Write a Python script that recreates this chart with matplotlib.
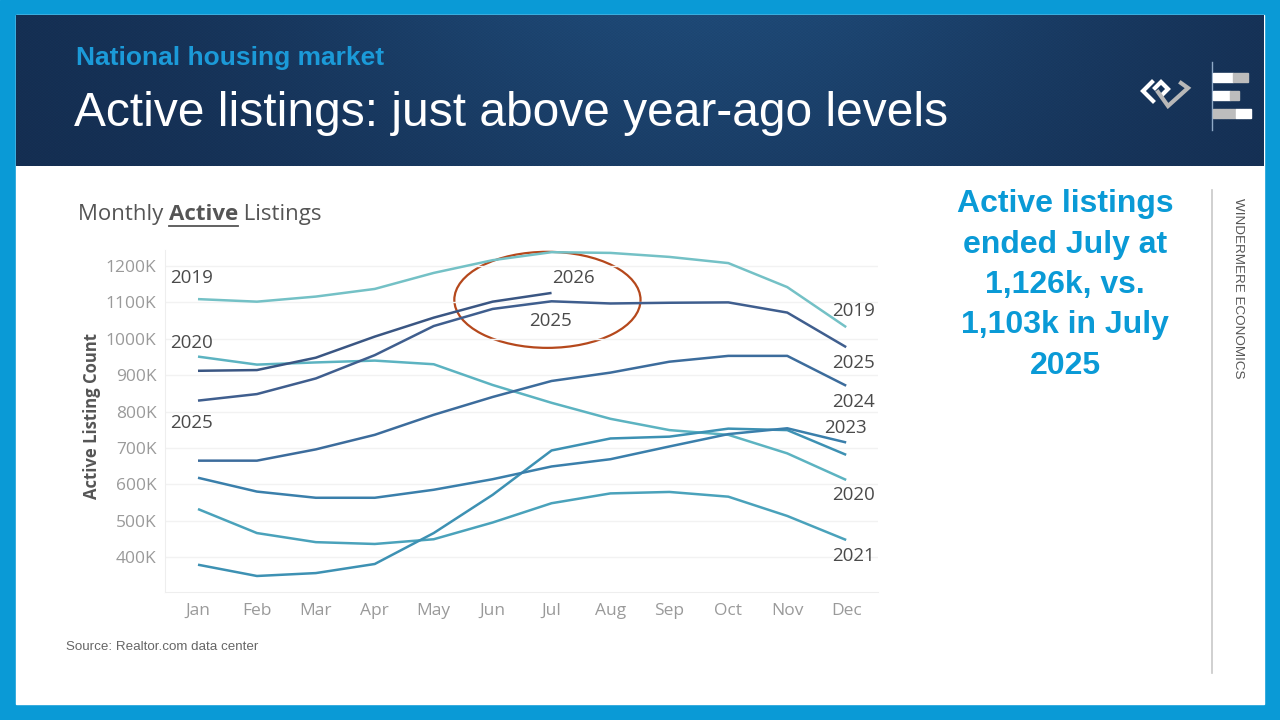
import numpy as np
import matplotlib.pyplot as plt
from matplotlib.patches import Rectangle, Ellipse
from matplotlib.lines import Line2D

# ---------------------------------------------------------------
# DATA (thousands of active listings)
# ---------------------------------------------------------------
months = ['Jan', 'Feb', 'Mar', 'Apr', 'May', 'Jun',
          'Jul', 'Aug', 'Sep', 'Oct', 'Nov', 'Dec']

y2019 = [1109, 1102, 1116, 1137, 1181, 1216, 1238, 1236, 1225, 1208, 1142, 1032]
y2020 = [951, 929, 935, 940, 930, 873, 824, 780, 749, 736, 685, 612]
y2021 = [532, 466, 441, 436, 449, 495, 548, 575, 579, 566, 513, 447]
y2022 = [379, 348, 356, 381, 466, 571, 693, 726, 731, 753, 749, 681]
y2023 = [618, 580, 563, 563, 585, 614, 649, 669, 704, 738, 754, 715]
y2024 = [665, 665, 696, 736, 791, 840, 884, 907, 937, 953, 953, 871]
y2025 = [830, 848, 891, 955, 1035, 1082, 1103, 1097, 1099, 1100, 1072, 977]
y2026 = [912, 914, 948, 1006, 1058, 1102, 1126]

series = {
    '2019': (y2019, '#74c1c6'),
    '2020': (y2020, '#5cb3c1'),
    '2021': (y2021, '#4aa2bb'),
    '2022': (y2022, '#3d91b3'),
    '2023': (y2023, '#3a7fab'),
    '2024': (y2024, '#3c6c9c'),
    '2025': (y2025, '#3f5e8e'),
    '2026': (y2026, '#3a5683'),
}

yticks = [400, 500, 600, 700, 800, 900, 1000, 1100, 1200]

# year labels: (x in month index, y in K, text)
right_labels = [(10.76, 1076, '2019'), (10.76, 934, '2025'), (10.76, 826, '2024'),
                (10.62, 755, '2023'), (10.76, 571, '2020'), (10.76, 403, '2021')]
left_labels = [(-0.48, 1167, '2019'), (-0.48, 988, '2020'), (-0.48, 769, '2025')]
circle_labels = [(6.37, 1167, '2026'), (5.98, 1049, '2025')]

W, H = 1280, 720
BLUE = '#0a9ad6'
GRAY_TXT = '#555555'


def fx(px):
    return px / W


def fy(py):
    return 1 - py / H


fig = plt.figure(figsize=(12.8, 7.2), dpi=100)
fig.patch.set_facecolor('white')

# ---- slide frame -------------------------------------------------
bg = fig.add_axes([0, 0, 1, 1], zorder=-5)
bg.set_xlim(0, W)
bg.set_ylim(H, 0)
bg.axis('off')
bg.add_patch(Rectangle((0, 0), W, H, color=BLUE))
bg.add_patch(Rectangle((16, 15), 1248, 689, color='white'))

# navy header: smooth horizontal gradient plus a faint woven pattern
gx = np.linspace(0, 1, 1248)
gy = np.linspace(0, 1, 151)
GX, GY = np.meshgrid(gx, gy)
glow = np.exp(-((GX - 0.55) / 0.35) ** 2) * (1 - 0.4 * GY)
weave = 0.5 + 0.25 * np.sin(GX * 1248 * 1.9) * np.sin(GY * 151 * 2.3)
c0 = np.array([0.08, 0.18, 0.32])
c1 = np.array([0.12, 0.29, 0.47])
img = c0 + (c1 - c0) * glow[..., None]
img = img * (0.92 + 0.12 * weave[..., None])
bg.imshow(np.clip(img, 0, 1), extent=(16, 1264, 166, 15), aspect='auto',
          interpolation='nearest', zorder=1)

bg.text(76, 58, 'National housing market', color='#1b9ad8', fontsize=19,
        fontweight='bold', family='Liberation Sans', va='center', zorder=3)
bg.text(74, 114, 'Active listings: just above year-ago levels', color='white',
        fontsize=34.5, family='Liberation Sans', va='center', zorder=3)

# logo marks
bg.plot([1152, 1143, 1153], [82, 91, 101], color='white', lw=3.0, zorder=3,
        solid_joinstyle='miter')
bg.plot([1155, 1161, 1168, 1163], [88, 82, 89, 94], color='white', lw=3.0,
        zorder=3, solid_joinstyle='miter')
bg.plot([1158, 1168, 1188, 1181], [92, 106, 88, 83], color='#b8b8b8',
        lw=3.0, zorder=3, solid_joinstyle='miter')
bg.plot([1212, 1212], [62, 130], color='#8fa9c6', lw=1, zorder=3)
bg.add_patch(Rectangle((1213, 73), 20, 9, color='white', zorder=3))
bg.add_patch(Rectangle((1233, 73), 15, 9, color='#bdbdbd', zorder=3))
bg.add_patch(Rectangle((1213, 91), 17, 9, color='white', zorder=3))
bg.add_patch(Rectangle((1230, 91), 9, 9, color='#bdbdbd', zorder=3))
bg.add_patch(Rectangle((1213, 109), 23, 9, color='#bdbdbd', zorder=3))
bg.add_patch(Rectangle((1236, 109), 15, 9, color='white', zorder=3))

# right side text
bg.text(1065, 285, 'Active listings\nended July at\n1,126k, vs.\n1,103k in July\n2025',
        color=BLUE, fontsize=23, fontweight='bold', family='Liberation Sans',
        ha='center', va='center', linespacing=1.45)
bg.plot([1212, 1212], [190, 673], color='#c8c8c8', lw=1.2)
bg.text(1238, 198, 'WINDERMERE ECONOMICS', rotation=-90, color=GRAY_TXT,
        fontsize=9.7, family='Liberation Sans', ha='center', va='top')

bg.text(66, 647, 'Source: Realtor.com data center', color='#666666',
        fontsize=9.6, family='Liberation Sans', va='center')

# chart title with the underlined bold word
fig.canvas.draw()
r = fig.canvas.get_renderer()
t1 = fig.text(fx(78), fy(214), 'Monthly ', color=GRAY_TXT, fontsize=16,
              family='Open Sans', va='center')
bb = t1.get_window_extent(r)
t2 = fig.text(bb.x1 / W, fy(214), 'Active', color=GRAY_TXT, fontsize=16,
              family='Open Sans', fontweight='bold', va='center')
bb2 = t2.get_window_extent(r)
fig.add_artist(Line2D([bb2.x0 / W, bb2.x1 / W], [fy(226), fy(226)],
                      color=GRAY_TXT, lw=1.3))
fig.text(bb2.x1 / W, fy(214), ' Listings', color=GRAY_TXT, fontsize=16,
         family='Open Sans', va='center')

# ---- the chart ---------------------------------------------------
ax = fig.add_axes([fx(165), fy(592), fx(878) - fx(165), fy(250) - fy(592)])
ax.set_facecolor('white')
x = np.arange(len(months))
for name, (vals, col) in series.items():
    ax.plot(x[:len(vals)], vals, color=col, lw=1.8, solid_capstyle='butt')

ax.set_xlim(-0.56, 11.54)
ax.set_ylim(304, 1244)
ax.set_yticks(yticks)
ax.set_yticklabels([f'{v}K' for v in yticks])
ax.set_xticks(x)
ax.set_xticklabels(months)
ax.tick_params(length=0, labelsize=12.5, labelcolor='#9a9a9a', pad=6)
ax.tick_params(axis='x', pad=8)
for lab in ax.get_xticklabels() + ax.get_yticklabels():
    lab.set_family('Open Sans')
ax.grid(axis='y', color='#f2f2f2', lw=1)
for s in ['top', 'right']:
    ax.spines[s].set_visible(False)
ax.spines['left'].set_color('#eeeeee')
ax.spines['bottom'].set_color('#eeeeee')
ax.set_ylabel('Active Listing Count', fontsize=12, fontweight='bold',
              color=GRAY_TXT, family='Open Sans')
ax.yaxis.set_label_coords(-0.09, 0.515)

for lx, ly, txt in right_labels + left_labels:
    ax.text(lx, ly, txt, fontsize=13.5, color='#4a4a4a', family='Open Sans',
            ha='left', va='center', clip_on=False)
for lx, ly, txt in circle_labels:
    ax.text(lx, ly, txt, fontsize=13.5, color='#4a4a4a', family='Open Sans',
            ha='center', va='center')

ax.add_patch(Ellipse((5.93, 1107), 3.16, 264, fill=False, edgecolor='#b5481c',
                     lw=1.6, clip_on=False))

fig.savefig('out.png', dpi=100)
